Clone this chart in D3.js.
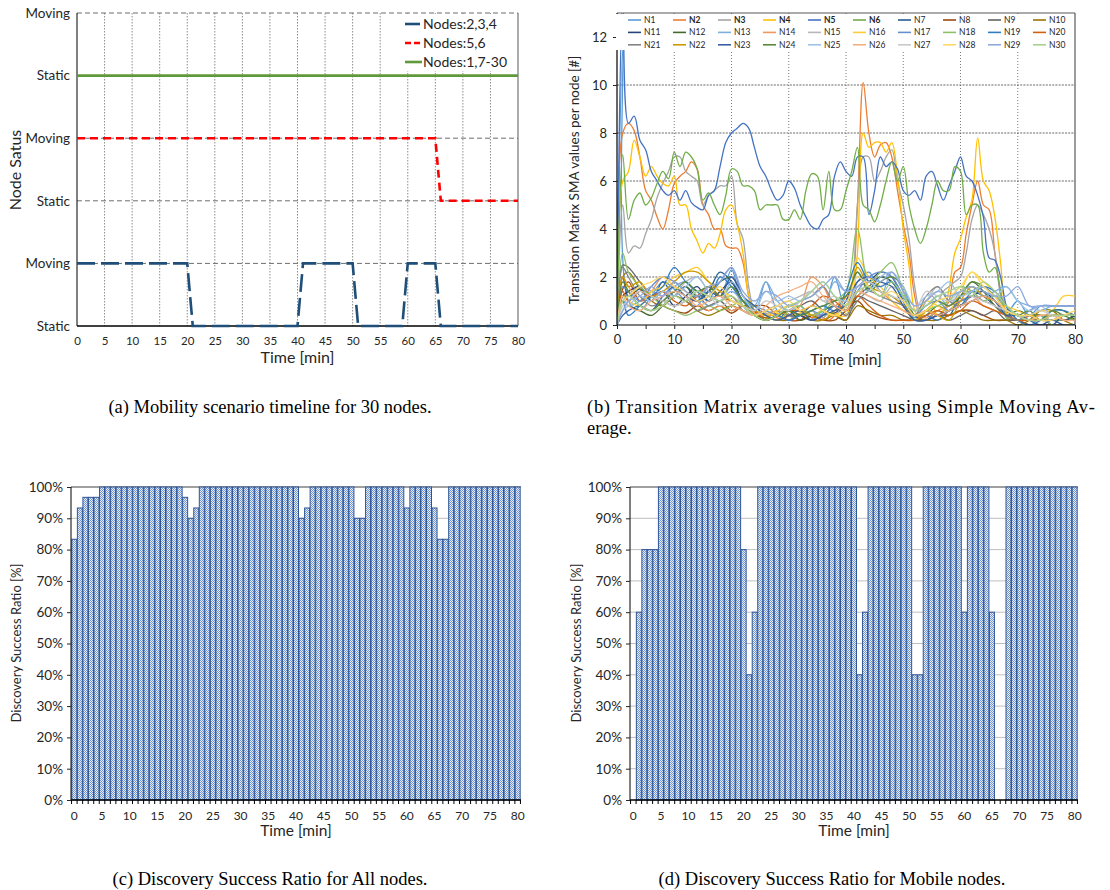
<!DOCTYPE html>
<html>
<head>
<meta charset="utf-8">
<script src="https://cdn.jsdelivr.net/npm/d3@7"></script>
<style>
body { margin: 0; background: #fff; }
svg text { font-family: Lato, "Noto Sans", sans-serif; fill: #262626; }
svg text.cap { font-family: "Liberation Serif", "Times New Roman", serif; fill: #000; }
</style>
</head>
<body>
<svg id="fig" width="1110" height="890"></svg>
<script>
// ---------- data ----------
var xTickLabels = [0, 5, 10, 15, 20, 25, 30, 35, 40, 45, 50, 55, 60, 65, 70, 75, 80];
var xTickLabelsB = [0, 10, 20, 30, 40, 50, 60, 70, 80];
var statusLabels = ["Static", "Moving", "Static", "Moving", "Static", "Moving"];
var smaTicks = [0, 2, 4, 6, 8, 10, 12];
var pctTicks = [0, 10, 20, 30, 40, 50, 60, 70, 80, 90, 100];

// (a) mobility timeline: time [min] and status level (0..5, bottom to top)
var mobilityNames = ["Nodes:2,3,4", "Nodes:5,6", "Nodes:1,7-30"];
var nodes234Times = [0, 20, 21, 40, 41, 50, 51, 59, 60, 65, 66, 80];
var nodes234Levels = [1, 1, 0, 0, 1, 1, 0, 0, 1, 1, 0, 0];
var nodes56Times = [0, 65, 66, 80];
var nodes56Levels = [3, 3, 2, 2];
var nodesRestTimes = [0, 80];
var nodesRestLevels = [4, 4];

// (b) transition matrix SMA per node
var nodeNames = ["N1","N2","N3","N4","N5","N6","N7","N8","N9","N10",
  "N11","N12","N13","N14","N15","N16","N17","N18","N19","N20",
  "N21","N22","N23","N24","N25","N26","N27","N28","N29","N30"];
var nodeColors = ["#5b9bd5","#ed7d31","#a5a5a5","#ffc000","#4472c4","#70ad47","#255e91","#9e480e","#636363","#997300",
  "#264478","#43682b","#7cafdd","#f1975a","#b7b7b7","#ffcd33","#698ed0","#8cc168","#327dc2","#d26012",
  "#848484","#cc9a00","#3a5fa0","#5a8a39","#9dc3e6","#f4b183","#c9c9c9","#ffd966","#8faadc","#a9d18e"];
var boldNodes = ["N2", "N3", "N4", "N5", "N6"];

var majorTimes = d3.range(0, 81);
var minorTimes = [0, 1, 2, 4, 6, 8, 10, 12, 14, 16, 18, 20, 22, 24, 26, 28, 30, 32, 34, 36, 38, 40,
  42, 44, 46, 48, 50, 52, 54, 56, 58, 60, 62, 64, 66, 68, 70, 72, 74, 76, 78, 80];

var n2 = [0, 8.0, 8.4, 8.1, 7.0, 5.6, 5.2, 4.5, 4.0, 4.8,
  5.9, 6.2, 6.4, 6.8, 6.5, 5.0, 4.6, 4.0, 4.0, 3.3,
  3.2, 3.2, 2.6, 1.2, 0.5, 0.4, 0.3, 0.4, 0.3, 0.2,
  0.4, 0.3, 0.2, 0.4, 0.3, 0.4, 0.3, 0.2, 0.4, 0.8,
  1.2, 1.6, 5.0, 10.1, 8.0, 7.0, 7.5, 7.6, 7.0, 5.6,
  4.2, 3.0, 1.2, 0.4, 0.6, 0.5, 0.4, 0.6, 1.0, 2.2,
  2.4, 3.8, 5.0, 6.0, 5.0, 4.8, 3.0, 1.4, 0.4, 0.2,
  0.2, 0.2, 0.4, 0.4, 0.4, 0.4, 0.4, 0.4, 0.4, 0.4, 0.4];
var n3 = [0, 5.0, 3.0, 3.3, 3.2, 3.8, 4.4, 5.3, 5.9, 6.4,
  7.0, 7.0, 6.4, 6.2, 6.0, 5.0, 5.4, 5.6, 5.8, 5.8,
  6.2, 4.2, 3.6, 1.6, 0.6, 0.4, 0.5, 0.3, 0.4, 0.6,
  0.4, 0.3, 0.5, 0.4, 0.6, 0.4, 0.3, 0.5, 0.4, 0.6,
  0.8, 1.5, 5.0, 7.0, 7.0, 6.0, 6.4, 7.0, 7.3, 6.0,
  5.0, 3.6, 1.6, 0.6, 1.0, 1.2, 1.0, 1.4, 1.6, 1.8,
  2.0, 3.0, 4.4, 5.0, 4.6, 4.0, 3.0, 1.2, 0.4, 0.2,
  0.2, 0.2, 0.2, 0.2, 0.2, 0.2, 0.2, 0.2, 0.2, 0.2, 0.2];
var n4 = [0, 6.0, 6.4, 7.7, 7.0, 6.2, 6.6, 6.2, 5.9, 5.8,
  6.2, 5.0, 5.0, 4.0, 3.5, 3.0, 3.4, 3.2, 3.8, 4.8,
  5.0, 4.2, 3.0, 1.2, 0.5, 0.4, 0.6, 0.4, 0.5, 0.3,
  0.6, 0.4, 0.5, 0.6, 0.4, 0.5, 0.6, 0.4, 0.5, 0.4,
  0.6, 1.0, 3.0, 8.0, 7.4, 7.6, 7.6, 7.2, 7.6, 6.2,
  4.0, 2.5, 0.6, 0.3, 0.6, 0.8, 0.4, 0.6, 1.5, 3.0,
  3.6, 4.5, 5.2, 7.8, 6.0, 5.6, 4.5, 2.6, 0.5, 0.2,
  0.2, 0.2, 0.2, 0.2, 0.2, 0.2, 0.2, 0.2, 0.2, 0.2, 0.2];
var n5 = [0, 13.5, 8.4, 8.7, 7.7, 7.3, 6.4, 6.0, 5.6, 5.4,
  5.6, 5.2, 5.6, 5.1, 4.9, 4.8, 5.4, 5.6, 6.6, 7.6,
  8.0, 8.2, 8.4, 8.2, 7.4, 6.6, 6.2, 5.6, 5.2, 5.4,
  6.0, 5.7, 5.0, 4.5, 4.1, 4.0, 4.4, 4.6, 6.2, 6.8,
  6.4, 6.2, 7.0, 7.0, 4.6, 5.6, 7.0, 6.6, 6.8, 6.5,
  5.6, 5.4, 5.6, 5.2, 6.2, 6.4, 5.8, 5.2, 5.8, 6.4,
  7.0, 6.2, 6.0, 5.4, 4.5, 2.8, 2.7, 2.0, 0.8, 0.3,
  0.2, 0.2, 0.2, 0.2, 0.2, 0.2, 0.2, 0.2, 0.2, 0.2, 0.2];
var n6 = [0, 7.1, 4.4, 5.2, 5.5, 5.0, 5.3, 5.9, 6.4, 6.1,
  7.2, 6.6, 7.2, 7.0, 6.5, 5.2, 5.5, 5.0, 4.6, 5.4,
  6.5, 6.4, 5.8, 5.8, 5.6, 4.8, 5.0, 5.0, 5.0, 4.4,
  4.4, 4.8, 4.4, 5.6, 6.3, 6.2, 4.8, 6.4, 4.8, 4.8,
  5.6, 6.4, 7.4, 5.0, 4.8, 4.3, 5.0, 6.0, 6.8, 6.0,
  6.6, 5.0, 4.0, 3.4, 4.0, 5.0, 6.0, 5.6, 5.6, 6.6,
  6.4, 4.6, 5.0, 5.0, 3.0, 2.2, 2.4, 1.4, 0.3, 0.2,
  0.2, 0.2, 0.2, 0.2, 0.2, 0.2, 0.2, 0.2, 0.2, 0.2, 0.2];

var n1 = [0,11.5,1.0,0.6,1.2,1.8,1.5, 1.0,0.8,1.6,1.2,2.3, 0.8,0.5,1.8,0.6,0.4, 0.8,0.3,0.5,2.0,0.6, 1.8,2.2,1.4,1.2,0.8, 0.3,0.6,0.4,0.8,1.0, 1.2,1.6,1.0,0.5,1.0, 0.4,0.8,0.8,0.8,0.8];
var n7 = [0,2.0,1.2,1.5,1.0,1.8,1.2, 1.6,1.0,1.4,2.2,1.8, 1.0,0.8,0.4,0.6,0.4, 0.4,0.8,0.6,0.5,1.0, 2.2,1.5,2.0,1.8,1.2, 0.4,0.2,0.6,0.4,1.2, 1.4,1.2,0.8,0.4,0.2, 0.4,0.4,0,0.4,0.4];
var n8 = [0,1.5,1.8,1.0,1.2,0.8,0.6, 0.5,0.8,0.6,0.8,0.5, 0.8,0.8,0.8,0.4,0.2, 0.2,0.4,0.2,0.2,0.6, 1.0,0.5,0.3,0.2,0.2, 0.2,0.2,0.4,0.4,0.6, 0.6,0.4,0.2,0.2,0.2, 0,0,0,0,0];
var n9 = [0,2.5,2.4,1.8,1.2,1.0,0.8, 1.0,1.2,0.8,1.0,0.6, 0.8,0.4,0.2,0.4,0.6, 0.8,1.0,0.6,0.4,0.2, 1.2,1.0,0.8,0.6,0.4, 0.2,0.2,0.4,0.2,0.4, 0.6,0.4,0.6,0.2,0.2, 0,0,0,0,0];
var n10 = [0,2.0,2.2,1.5,1.0,0.8,1.2, 1.0,0.6,0.4,0.6,0.8, 0.6,0.4,0.3,0.2,0.2, 0.4,0.2,0.2,0.4,0.2, 0.8,0.6,0.4,0.4,0.2, 0.2,0.2,0.2,0.4,0.6, 0.4,0.2,0.2,0.2,0, 0.2,0.6,0.6,0.2,0];
var n11 = [0,1.2,1.4,1.6,1.0,1.4,0.8, 1.2,1.6,1.0,1.4,1.8, 1.0,0.6,0.4,0.2,0.6, 0.4,0.2,0.4,0.8,0.4, 1.6,1.8,2.2,2.0,1.0, 0.2,0.6,0.4,0.6,1.0, 1.2,1.4,1.0,0.6,0.4, 0.2,0.2,0.4,0.2,0.4];
var n12 = [0,1.0,0.8,0.6,0.4,0.8,1.2, 1.6,1.2,1.4,1.8,2.0, 1.2,0.6,0.2,0.4,0.6, 0.2,0.4,0.6,0.8,0.6, 1.2,1.6,2.0,1.8,1.0, 0.2,0.4,0.8,0.6,1.2, 1.8,1.4,0.8,0.4,0.6, 0.4,0.2,0.6,0.6,0.2];
var n13 = [0,1.0,0.8,1.0,1.4,1.2,1.6, 1.8,1.2,0.8,1.0,1.4, 1.0,0.8,1.8,1.0,0.6, 0.8,0.4,0.6,1.8,1.4, 2.0,1.6,1.2,2.2,1.4, 0.6,0.8,1.2,0.8,1.4, 1.6,1.2,1.4,1.6,1.0, 0.8,0.6,0.8,0.8,0.8];
var n14 = [0,2.0,1.6,1.0,1.4,2.0,1.6, 1.2,1.0,0.6,0.8,0.6, 0.8,0.5,0.4,0.6,0.4, 0.8,2.0,1.6,0.8,1.2, 1.2,1.8,1.4,1.0,0.6, 0.4,0.3,0.6,0.8,1.0, 1.2,0.8,0.6,0.4,0.2, 0.2,0.2,0.4,0.2,0.2];
var n15 = [0,1.0,1.2,1.6,1.4,1.0,1.2, 1.8,2.0,1.4,1.0,1.6, 0.8,0.6,0.4,0.8,1.0, 1.2,1.4,1.0,0.8,0.6, 1.4,1.2,1.0,1.6,1.2, 0.6,1.0,1.6,1.0,1.2, 1.4,1.0,1.2,0.6,0.4, 0.2,0.4,0.2,0.4,0.4];
var n16 = [0,1.2,1.0,0.8,1.4,1.6,2.0, 2.2,2.4,1.8,1.4,1.2, 0.8,0.6,0.4,0.6,0.8, 0.6,0.4,0.6,0.4,0.4, 2.8,2.0,1.6,1.0,0.6, 0.4,1.0,0.8,0.6,1.4, 2.2,1.8,1.4,0.8,0.6, 0.4,0.6,0.6,1.2,1.2];
var n17 = [0,1.6,1.4,1.0,1.6,2.0,1.8, 1.4,1.0,1.2,1.8,2.4, 1.2,0.8,0.6,0.4,0.2, 0.4,0.6,0.4,0.8,0.6, 1.4,2.0,2.2,2.0,1.2, 0.4,0.8,1.0,0.6,1.0, 1.2,1.6,1.2,0.8,0.2, 0.6,0.8,0.8,0.8,0.8];
var n18 = [0,3.0,2.2,1.6,1.2,0.8,0.6, 0.4,0.6,0.8,0.6,0.8, 1.0,0.8,0.4,0.2,0.6, 0.8,0.4,0.6,1.0,1.4, 4.0,1.8,2.2,2.6,1.4, 0.4,0.6,0.8,1.0,1.6, 1.4,1.0,1.2,0.8,0.4, 0.2,0.4,0,0,0];
var n19 = [0,1.0,0.4,0.8,1.2,1.6,2.4, 1.8,1.4,1.0,2.0,1.6, 1.0,0.6,0.2,0.4,0.2, 0.4,0.6,0.8,0.6,1.4, 2.6,1.8,1.6,1.8,1.0, 0.2,0.4,0.2,0.6,0.8, 1.4,1.6,1.4,0.8,0.2, 0,0.2,0.6,0.6,0.4];
var n20 = [0,1.4,1.0,1.4,1.2,1.4,1.0, 0.8,1.2,1.6,1.2,1.0, 0.8,0.6,0.2,0.4,0.6, 0.6,0.8,1.2,1.0,0.6, 1.2,0.8,0.4,0.2,0.2, 0.2,0.4,0.6,0.4,0.6, 1.0,0.8,0.6,0.4,0.2, 0.2,0.2,0.4,0.4,0.4];
var n21 = [0,2.4,2.0,1.2,0.8,1.0,1.4, 1.2,0.6,0.8,1.0,1.2, 0.6,0.4,0.6,0.8,0.6, 1.0,1.2,1.6,0.8,0.4, 1.0,1.4,1.2,1.0,0.8, 0.4,1.2,1.6,1.0,0.8, 1.2,1.0,0.8,0.4,0.2, 0.4,0.2,0.2,0.4,0.4];
var n22 = [0,2.0,1.6,1.8,1.2,1.4,1.8, 2.2,2.2,1.8,1.4,1.0, 0.8,0.6,0.4,0.2,0.4, 0.6,0.4,0.2,0.6,0.8, 2.4,1.6,1.4,1.2,0.8, 0.2,0.6,0.4,0.2,1.0, 1.6,1.2,1.0,0.6,0.4, 0.4,0.4,0.4,0.4,0.4];
var n23 = [0,0.4,0.6,0.8,0.6,1.2,1.6, 1.2,1.0,1.4,1.2,2.0, 1.2,0.8,0.4,0.2,0.4, 0.6,0.2,0.4,0.6,0.8, 1.8,2.0,1.8,1.6,0.8, 0.2,0.2,0.4,0.6,0.8, 1.0,1.2,1.0,0.4,0.4, 0.2,0,0.2,0,0];
var n24 = [0,1.8,1.4,0.8,0.6,1.0,1.4, 1.8,1.4,1.6,1.2,1.6, 1.0,0.4,0.2,0.4,0.6, 0.4,0.6,0.8,1.0,1.2, 2.2,1.4,1.8,2.0,1.6, 0.4,0.6,1.0,0.8,1.2, 1.8,1.6,1.2,0.6,0.4, 0.6,0.2,0.6,0.4,0.2];
var n25 = [0,0.6,0.8,1.2,1.0,1.4,1.2, 1.6,2.0,1.4,1.0,1.8, 1.2,0.6,1.4,1.0,1.2, 1.0,1.4,1.8,1.2,1.0, 1.6,1.4,2.0,2.2,1.6, 0.8,1.2,1.4,1.8,1.2, 1.4,1.6,1.2,1.6,1.0, 0.6,0.8,0.4,0.4,0.4];
var n26 = [0,1.2,0.8,0.6,1.0,1.2,1.4, 1.2,0.8,1.0,1.2,0.8, 0.6,0.4,0.8,1.2,1.4, 1.6,1.8,1.2,0.8,0.6, 1.4,1.2,1.0,0.8,0.6, 0.4,0.6,0.4,0.6,0.8, 1.0,1.2,1.0,0.6,0.4, 0.2,0.4,0.4,0.2,0.2];
var n27 = [0,0.8,1.0,1.4,1.2,1.0,0.8, 1.0,1.4,1.2,0.8,1.0, 0.8,0.6,1.0,0.8,0.6, 1.0,1.4,1.0,1.2,0.8, 1.6,1.8,1.4,1.2,1.0, 0.6,1.4,1.2,1.0,1.4, 1.2,1.0,0.8,0.6,0.4, 0.4,0.6,0.4,0.4,0.4];
var n28 = [0,1.0,1.2,1.6,1.8,2.0,1.6, 1.4,1.0,1.2,1.6,1.0, 0.8,0.4,0.6,0.8,1.0, 0.6,0.8,0.6,0.4,0.8, 2.0,1.6,1.2,1.4,1.0, 0.4,0.6,1.0,1.2,1.6, 2.2,1.6,1.2,0.6,0.4, 0.4,0.2,0.2,0.4,0.6];
var n29 = [0,0.6,1.0,1.2,1.6,1.2,1.8, 1.4,1.2,1.6,1.8,2.4, 1.4,1.0,1.4,1.2,0.8, 1.0,1.2,1.6,2.0,1.4, 1.6,2.0,1.8,2.2,1.4, 0.8,1.0,1.4,1.2,1.4, 1.6,1.4,1.2,1.2,1.6, 0.8,0.8,0.8,0.8,0.8];
var n30 = [0,1.0,1.2,0.8,0.6,0.8,1.2, 1.0,1.4,1.2,1.0,1.2, 0.8,0.4,0.2,0.4,0.8, 1.0,1.4,1.8,1.2,0.8, 1.4,1.6,1.2,1.8,1.2, 0.6,0.8,1.2,1.4,1.6, 1.2,1.8,1.4,0.8,0.4, 0.2,0.2,0.4,0.4,0.4];

var nodeValues = [n1, n2, n3, n4, n5, n6, n7, n8, n9, n10, n11, n12, n13, n14, n15,
  n16, n17, n18, n19, n20, n21, n22, n23, n24, n25, n26, n27, n28, n29, n30];

// (c), (d) discovery success ratio per minute [%]
var minutes = d3.range(0, 81);
var allNodesRatio = [83.3, 93.3, 96.7, 96.7, 96.7, 100, 100, 100, 100, 100,
  100, 100, 100, 100, 100, 100, 100, 100, 100, 100,
  96.7, 90, 93.3, 100, 100, 100, 100, 100, 100, 100,
  100, 100, 100, 100, 100, 100, 100, 100, 100, 100,
  100, 90, 93.3, 100, 100, 100, 100, 100, 100, 100,
  100, 90, 90, 100, 100, 100, 100, 100, 100, 100,
  93.3, 100, 100, 100, 100, 93.3, 83.3, 83.3, 100, 100,
  100, 100, 100, 100, 100, 100, 100, 100, 100, 100, 100];
var mobileNodesRatio = [0, 60, 80, 80, 80, 100, 100, 100, 100, 100,
  100, 100, 100, 100, 100, 100, 100, 100, 100, 100,
  80, 40, 60, 100, 100, 100, 100, 100, 100, 100,
  100, 100, 100, 100, 100, 100, 100, 100, 100, 100,
  100, 40, 60, 100, 100, 100, 100, 100, 100, 100,
  100, 40, 40, 100, 100, 100, 100, 100, 100, 100,
  60, 100, 100, 100, 100, 60, 0, 0, 100, 100,
  100, 100, 100, 100, 100, 100, 100, 100, 100, 100, 100];

// ---------- drawing ----------
var svg = d3.select("#fig");
var defs = svg.append("defs");

function styleAxis(sel, size) {
  sel.select(".domain").remove();
  sel.selectAll("text").style("font-size", size + "px").attr("fill", "#262626");
  sel.selectAll(".tick line").attr("stroke", "#262626");
}

// ===== (a) =====
var xa = d3.scaleLinear().domain([0, 80]).range([77, 518]);
var ya = d3.scaleLinear().domain([0, 5]).range([326, 13]);
var ga = svg.append("g");

ga.selectAll(".vgrid").data(xTickLabels.slice(1, -1)).enter().append("line")
    .attr("x1", d => xa(d)).attr("x2", d => xa(d))
    .attr("y1", ya(5)).attr("y2", ya(0))
    .attr("stroke", "#7f7f7f").attr("stroke-width", 0.9).attr("stroke-dasharray", "1.5,1.5");
ga.selectAll(".hgrid").data([1, 2, 3, 4, 5]).enter().append("line")
    .attr("x1", xa(0)).attr("x2", xa(80))
    .attr("y1", d => ya(d)).attr("y2", d => ya(d))
    .attr("stroke", "#6f6f6f").attr("stroke-width", 1).attr("stroke-dasharray", "5,3");
ga.append("line").attr("x1", xa(80)).attr("x2", xa(80)).attr("y1", ya(5)).attr("y2", ya(0))
    .attr("stroke", "#595959");
ga.append("line").attr("x1", xa(0)).attr("x2", xa(0)).attr("y1", ya(5)).attr("y2", ya(0))
    .attr("stroke", "#000");
ga.append("line").attr("x1", xa(0)).attr("x2", xa(80)).attr("y1", ya(0)).attr("y2", ya(0))
    .attr("stroke", "#000").attr("stroke-width", 1.5);

var lineA = d3.line().x(d => xa(d[0])).y(d => ya(d[1]));
var mobility = [
  {pts: d3.zip(nodes234Times, nodes234Levels), color: "#1f4e79", dash: "18,6", legDash: "15,2"},
  {pts: d3.zip(nodes56Times, nodes56Levels), color: "#ff0000", dash: "8,5", legDash: "6,3"},
  {pts: d3.zip(nodesRestTimes, nodesRestLevels), color: "#5f9a3a", dash: null, legDash: null}
];
ga.selectAll(".mob").data(mobility).enter().append("path")
    .attr("d", d => lineA(d.pts))
    .attr("fill", "none").attr("stroke", d => d.color).attr("stroke-width", 2.6)
    .attr("stroke-dasharray", d => d.dash);

ga.append("g").attr("transform", "translate(" + xa(0) + ",0)")
    .call(d3.axisLeft(ya).tickValues([0, 1, 2, 3, 4, 5]).tickFormat(i => statusLabels[i]).tickSize(0).tickPadding(7))
    .call(s => styleAxis(s, 13.5));
ga.append("g").attr("transform", "translate(0," + ya(0) + ")")
    .call(d3.axisBottom(xa).tickValues(xTickLabels).tickSize(0).tickPadding(11))
    .call(s => styleAxis(s, 11.5));
ga.append("text").attr("x", xa(40)).attr("y", 363).attr("text-anchor", "middle")
    .style("font-size", "16px").text("Time [min]");
ga.append("text").attr("transform", "translate(21,170) rotate(-90)").attr("text-anchor", "middle")
    .style("font-size", "16px").text("Node Satus");

var legA = ga.append("g");
legA.append("rect").attr("x", 399).attr("y", 14).attr("width", 116).attr("height", 57).attr("fill", "#fff");
mobility.forEach(function(m, i) {
  var ly = 24 + i * 19;
  legA.append("line").attr("x1", 405).attr("x2", 422).attr("y1", ly).attr("y2", ly)
      .attr("stroke", m.color).attr("stroke-width", 2.6).attr("stroke-dasharray", m.legDash);
  legA.append("text").attr("x", 423).attr("y", ly).attr("dy", "0.35em")
      .style("font-size", "14px").text(mobilityNames[i]);
});

// ===== (b) =====
var xb = d3.scaleLinear().domain([0, 80]).range([617, 1075]);
var yb = d3.scaleLinear().domain([0, 13]).range([325, 13]);
var gb = svg.append("g");

gb.selectAll(".hgrid").data(smaTicks.slice(1, -1)).enter().append("line")
    .attr("x1", xb(0)).attr("x2", xb(80)).attr("y1", d => yb(d)).attr("y2", d => yb(d))
    .attr("stroke", "#9a9a9a").attr("stroke-width", 1.6).attr("stroke-dasharray", "2,1.2");
gb.selectAll(".vgrid").data(xTickLabelsB.slice(1, -1)).enter().append("line")
    .attr("x1", d => xb(d)).attr("x2", d => xb(d)).attr("y1", yb(13)).attr("y2", yb(0))
    .attr("stroke", "#595959").attr("stroke-width", 0.8).attr("stroke-dasharray", "1,2");
gb.append("line").attr("x1", xb(80)).attr("x2", xb(80)).attr("y1", yb(13)).attr("y2", yb(0))
    .attr("stroke", "#595959").attr("stroke-width", 1.2);
gb.append("line").attr("x1", xb(0)).attr("x2", xb(80)).attr("y1", yb(13)).attr("y2", yb(13))
    .attr("stroke", "#595959").attr("stroke-width", 1.2);

defs.append("clipPath").attr("id", "clipB").append("rect")
    .attr("x", xb(0)).attr("y", yb(13)).attr("width", xb(80) - xb(0)).attr("height", yb(0) - yb(13));

var seriesB = nodeNames.map(function(name, i) {
  var t = nodeValues[i].length == majorTimes.length ? majorTimes : minorTimes;
  return {name: name, color: nodeColors[i], pts: d3.zip(t, nodeValues[i])};
});
var lineB = d3.line().curve(d3.curveCatmullRom.alpha(0.5))
    .x(d => xb(d[0])).y(d => yb(Math.max(0, d[1])));
gb.append("g").attr("clip-path", "url(#clipB)")
  .selectAll("path").data(seriesB).enter().append("path")
    .attr("d", d => lineB(d.pts))
    .attr("fill", "none").attr("stroke", d => d.color).attr("stroke-width", 1.3);

gb.append("line").attr("x1", xb(0)).attr("x2", xb(0)).attr("y1", yb(13)).attr("y2", yb(0))
    .attr("stroke", "#000").attr("stroke-width", 1.2);
gb.append("line").attr("x1", xb(0)).attr("x2", xb(80)).attr("y1", yb(0)).attr("y2", yb(0))
    .attr("stroke", "#000").attr("stroke-width", 1.2);
gb.append("g").attr("transform", "translate(" + xb(0) + ",0)")
    .call(d3.axisLeft(yb).tickValues(smaTicks).tickSize(4).tickPadding(6))
    .call(s => styleAxis(s, 13));
gb.append("g").attr("transform", "translate(0," + yb(0) + ")")
    .call(d3.axisBottom(xb).tickValues(xTickLabels).tickSize(4).tickPadding(6)
      .tickFormat(d => xTickLabelsB.indexOf(d) >= 0 ? d : ""))
    .call(s => styleAxis(s, 13));
gb.append("text").attr("x", xb(40)).attr("y", 365).attr("text-anchor", "middle")
    .style("font-size", "15.5px").text("Time [min]");
gb.append("text").attr("transform", "translate(579,180) rotate(-90)").attr("text-anchor", "middle")
    .style("font-size", "13.5px").text("Transition Matrix SMA values per node [#]");

var legB = gb.append("g");
legB.append("rect").attr("x", xb(0) - 1).attr("y", yb(13) + 1).attr("width", xb(80) - xb(0)).attr("height", 36)
    .attr("fill", "#fff");
legB.selectAll(".item").data(seriesB).enter().append("g")
    .attr("transform", (d, i) => "translate(" + (628 + (i % 10) * 45) + "," + (20 + Math.floor(i / 10) * 12.4) + ")")
    .each(function(d) {
      var it = d3.select(this);
      it.append("line").attr("x1", 0).attr("x2", 13).attr("stroke", d.color).attr("stroke-width", 1.6);
      it.append("text").attr("x", 16).attr("dy", "0.35em").style("font-size", "8.5px")
        .style("font-weight", boldNodes.indexOf(d.name) >= 0 ? "bold" : "normal").text(d.name);
    });

// ===== (c), (d) =====
var pat = defs.append("pattern").attr("id", "checker").attr("width", 2).attr("height", 2)
    .attr("patternUnits", "userSpaceOnUse");
pat.append("rect").attr("width", 2).attr("height", 2).attr("fill", "#e8eef8");
pat.append("rect").attr("width", 1).attr("height", 1).attr("fill", "#7396d4");
pat.append("rect").attr("x", 1).attr("y", 1).attr("width", 1).attr("height", 1).attr("fill", "#7396d4");

function barPanel(left, right, values, titleX) {
  var x = d3.scaleBand().domain(minutes).range([left, right]).paddingInner(0.1).paddingOuter(0.15);
  var y = d3.scaleLinear().domain([0, 100]).range([800, 487]);
  var g = svg.append("g");
  var bars = minutes.map((m, i) => ({minute: m, value: values[i]}));

  g.selectAll(".grid").data(pctTicks.slice(1)).enter().append("line")
      .attr("x1", left).attr("x2", right).attr("y1", d => y(d)).attr("y2", d => y(d))
      .attr("stroke", d => d == 100 ? "#404040" : "#bfbfbf");
  g.selectAll(".bar").data(bars.filter(d => d.value > 0)).enter().append("rect")
      .attr("x", d => x(d.minute))
      .attr("y", d => y(d.value))
      .attr("width", x.bandwidth())
      .attr("height", d => y(0) - y(d.value))
      .attr("fill", "url(#checker)").attr("stroke", "#2f5597").attr("stroke-width", 1);

  g.append("line").attr("x1", left).attr("x2", left).attr("y1", y(100)).attr("y2", y(0)).attr("stroke", "#000");
  g.append("line").attr("x1", left).attr("x2", right).attr("y1", y(0)).attr("y2", y(0)).attr("stroke", "#000").attr("stroke-width", 1.4);
  g.selectAll(".xt").data(minutes.concat([81])).enter().append("line")
      .attr("x1", d => x.step() * d + x(0) - x.step() * x.paddingInner() / 2)
      .attr("x2", d => x.step() * d + x(0) - x.step() * x.paddingInner() / 2)
      .attr("y1", y(0)).attr("y2", y(0) + 4).attr("stroke", "#000");

  g.append("g").attr("transform", "translate(" + left + ",0)")
      .call(d3.axisLeft(y).tickValues(pctTicks).tickFormat(d => d + "%").tickSize(4).tickPadding(4))
      .call(s => styleAxis(s, 13.5));
  g.append("g").attr("transform", "translate(0," + y(0) + ")")
      .call(d3.axisBottom(x).tickValues(xTickLabels).tickSize(0).tickPadding(11))
      .call(s => styleAxis(s, 12));
  g.append("text").attr("x", (left + right) / 2).attr("y", 836).attr("text-anchor", "middle")
      .style("font-size", "15.5px").text("Time [min]");
  g.append("text").attr("transform", "translate(" + titleX + ",643) rotate(-90)").attr("text-anchor", "middle")
      .style("font-size", "13px").text("Discovery Success Ratio [%]");
}
barPanel(71, 521, allNodesRatio, 21);
barPanel(630, 1078, mobileNodesRatio, 581);

// ===== captions =====
svg.append("text").attr("class", "cap").attr("x", 270).attr("y", 413).attr("text-anchor", "middle")
    .style("font-size", "18.5px").text("(a) Mobility scenario timeline for 30 nodes.");
svg.append("text").attr("class", "cap").attr("x", 587).attr("y", 413)
    .attr("textLength", 508).attr("lengthAdjust", "spacing")
    .style("font-size", "18.5px").text("(b) Transition Matrix average values using Simple Moving Av-");
svg.append("text").attr("class", "cap").attr("x", 587).attr("y", 434)
    .style("font-size", "18.5px").text("erage.");
svg.append("text").attr("class", "cap").attr("x", 270).attr("y", 885).attr("text-anchor", "middle")
    .style("font-size", "18.5px").text("(c) Discovery Success Ratio for All nodes.");
svg.append("text").attr("class", "cap").attr("x", 832).attr("y", 885).attr("text-anchor", "middle")
    .style("font-size", "18.5px").text("(d) Discovery Success Ratio for Mobile nodes.");
</script>
</body>
</html>
